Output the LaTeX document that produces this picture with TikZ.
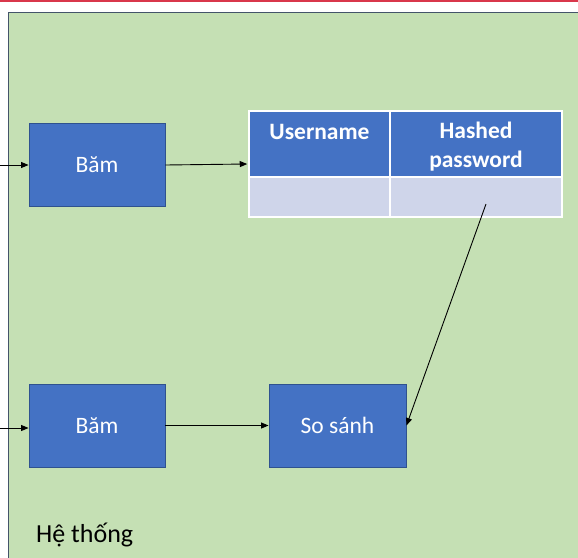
\documentclass[tikz,border=0pt]{standalone}
\usepackage{fontspec}
\setmainfont{Carlito}
\usetikzlibrary{arrows.meta,calc}
\definecolor{bgreen}{HTML}{C5E0B4}
\definecolor{gborder}{HTML}{44546A}
\definecolor{mblue}{HTML}{4472C4}
\definecolor{dblue}{HTML}{2F528F}
\definecolor{lblue}{HTML}{CFD5EA}
\definecolor{topred}{HTML}{D9374B}
\tikzset{
  procbox/.style={draw=dblue, line width=0.9pt, fill=mblue, text=white, minimum width=136pt, minimum height=83pt, inner sep=0pt, font=\fontsize{23.5}{27}\selectfont},
  headcell/.style={draw=white, line width=1.5pt, fill=mblue, inner sep=0pt},
  datacell/.style={draw=white, line width=1.5pt, fill=lblue, inner sep=0pt},
  headtext/.style={text=white, font=\bfseries\fontsize{23.5}{29}\selectfont, align=center, inner sep=0pt},
  conn/.style={-{Triangle[length=7.5pt,width=6pt]}, line width=0.9pt, black}
}
\begin{document}
\begin{tikzpicture}[x=1pt,y=-1pt]
\useasboundingbox (0,0) rectangle (578,557);
\fill[white] (0,0) rectangle (578,557);
\draw[topred, line width=1.8pt] (0,0.9) -- (578,0.9);
\begin{scope}
\clip (0,0) rectangle (578,557);
\draw[gborder, line width=1.4pt, fill=bgreen] (8.7,12.3) rectangle (600,580);
\end{scope}
% process boxes
\node[procbox] (bam1) at (97,165) {Băm};
\node[procbox] (bam2) at (97,425.5) {Băm};
\node[procbox, minimum width=137pt] (sosanh) at (337.5,425.5) {So sánh};
% table
\node[headcell, minimum width=141pt, minimum height=66pt] (h1) at (319.5,144) {};
\node[headcell, minimum width=172pt, minimum height=66pt] (h2) at (476,144) {};
\node[datacell, minimum width=141pt, minimum height=40pt] (d1) at (319.5,197) {};
\node[datacell, minimum width=172pt, minimum height=40pt] (d2) at (476,197) {};
\node[headtext] (t1) at (319.5,132) {Username};
\node[headtext] (t2) at (476,146.5) {Hashed\\password};
% label
\node[anchor=west, inner sep=0pt, font=\fontsize{26}{30}\selectfont] (sys) at (36,535) {Hệ thống};
% connectors
\coordinate (in1) at (0,165);
\coordinate (in2) at (0,428);
\coordinate (hp) at (486,204);
\draw[conn] (in1) -- (bam1.west);
\draw[conn] (in2) -- (bam2.west |- in2);
\draw[conn] (bam1.east) -- ($(bam1.east -| h1.west)+(-1,-1)$);
\draw[conn] (bam2.east) -- (bam2.east -| sosanh.west);
\draw[conn] (hp) -- (sosanh.east);
\end{tikzpicture}
\end{document}
